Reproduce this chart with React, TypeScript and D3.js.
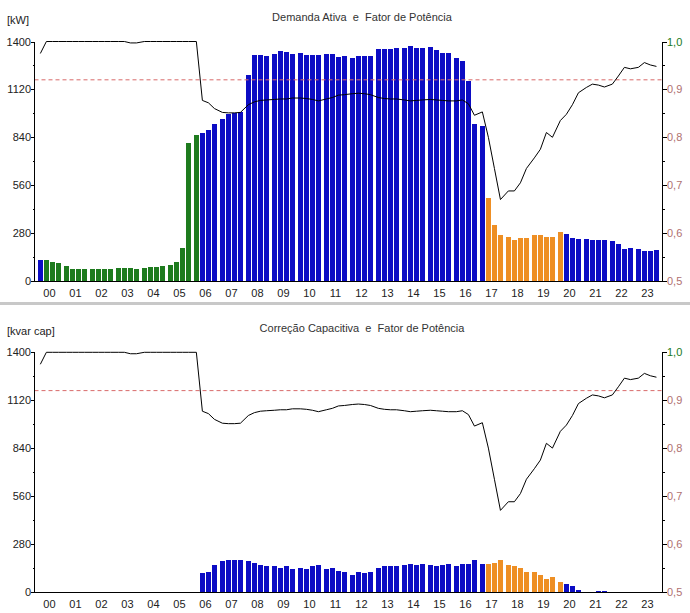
import React from 'react';
import * as d3 from 'd3';

// ---------- data ----------
const hourLabels = ['00','01','02','03','04','05','06','07','08','09','10','11','12','13','14','15','16','17','18','19','20','21','22','23'];
const quarters = [0, 1, 2, 3];

// Demanda ativa [kW], 15-min intervals
const activeDemand = [
  123, 123, 111, 105,
  88, 70, 70, 70,
  70, 70, 70, 70,
  76, 76, 76, 70,
  76, 82, 82, 88,
  94, 111, 195, 809,
  853, 865, 884, 917,
  947, 978, 980, 987,
  1204, 1321, 1321, 1315,
  1325, 1344, 1338, 1327,
  1331, 1321, 1321, 1321,
  1327, 1327, 1307, 1315,
  1302, 1315, 1315, 1315,
  1356, 1356, 1356, 1362,
  1362, 1374, 1362, 1362,
  1368, 1350, 1333, 1333,
  1304, 1286, 1170, 918,
  906, 487, 329, 269,
  257, 240, 249, 249,
  269, 269, 257, 257,
  286, 275, 251, 245,
  245, 240, 240, 240,
  234, 216, 187, 193,
  187, 175, 175, 181,
];

// Correção capacitiva [kvar cap]
const capacitiveCorrection = [
  0, 0, 0, 0,
  0, 0, 0, 0,
  0, 0, 0, 0,
  0, 0, 0, 0,
  0, 0, 0, 0,
  0, 0, 0, 0,
  0, 109, 114, 155,
  178, 188, 188, 188,
  178, 171, 159, 148,
  148, 142, 153, 136,
  142, 136, 148, 159,
  136, 142, 124, 118,
  101, 113, 107, 113,
  142, 148, 148, 153,
  159, 165, 159, 165,
  159, 153, 159, 165,
  153, 165, 165, 183,
  165, 165, 171, 183,
  159, 153, 142, 118,
  113, 101, 72, 84,
  60, 48, 31, 12,
  0, 0, 6, 6,
  0, 0, 0, 0,
  0, 0, 0, 0,
];

// Fator de potência
const powerFactor = [
  0.975, 1.0, 1.0, 1.0,
  1.0, 1.0, 1.0, 1.0,
  1.0, 1.0, 1.0, 1.0,
  1.0, 1.0, 0.997, 0.997,
  1.0, 1.0, 1.0, 1.0,
  1.0, 1.0, 1.0, 1.0,
  1.0, 0.877, 0.872, 0.860,
  0.852, 0.851, 0.851, 0.852,
  0.868, 0.874, 0.877, 0.878,
  0.879, 0.880, 0.880, 0.882,
  0.882, 0.881, 0.879, 0.876,
  0.880, 0.883, 0.888, 0.889,
  0.891, 0.892, 0.891, 0.889,
  0.883, 0.881, 0.880, 0.880,
  0.878, 0.876, 0.877, 0.878,
  0.879, 0.878, 0.877, 0.876,
  0.876, 0.878, 0.870, 0.846,
  0.853, 0.800, 0.735, 0.670,
  0.688, 0.688, 0.705, 0.735,
  0.757, 0.775, 0.810, 0.800,
  0.835, 0.848, 0.868, 0.893,
  0.904, 0.911, 0.909, 0.905,
  0.911, 0.928, 0.946, 0.943,
  0.946, 0.956, 0.951, 0.948,
];

const pfReference = 0.92;

// Tariff periods (by interval index)
const tariffPeriods = [
  { from: 1, to: 24, kind: 'reservado' },
  { from: 69, to: 80, kind: 'ponta' },
];

const leftTicks = [0, 280, 560, 840, 1120, 1400];
const leftMinorTicks = [140, 420, 700, 980, 1260];
const rightTicks = [0.5, 0.6, 0.7, 0.8, 0.9, 1.0];
const rightTickLabels = ['0,5', '0,6', '0,7', '0,8', '0,9', '1,0'];
const rightMinorTicks = [0.55, 0.65, 0.75, 0.85, 0.95];

// ---------- styling ----------
const COLORS: Record<string, string> = {
  foraPonta: '#0c0cc4',
  reservado: '#1e7b1e',
  ponta: '#ee8f24',
};
const FONT = '"Liberation Sans", Arial, sans-serif';

function periodOf(i: number): string {
  for (const p of tariffPeriods) if (i >= p.from && i <= p.to) return p.kind;
  return 'foraPonta';
}

const xHour = d3.scaleBand<number>().domain(d3.range(24)).range([37.7, 37.7 + 624]);
const xQuarter = d3.scaleBand<number>().domain(quarters).range([0, 23.4]).paddingInner(0.12);
const barX = (i: number) => (xHour(Math.floor(i / 4)) as number) + (xQuarter(i % 4) as number);
const barCenter = (i: number) => barX(i) + xQuarter.bandwidth() / 2;

const AX_LEFT = 34.5;
const AX_RIGHT = 662.5;

function Panel({ dy, unit, title, values }: { dy: number; unit: string; title: string; values: number[] }) {
  const bottom = 281 + dy;
  const top = 41.5 + dy;
  const y = d3.scaleLinear().domain([0, 1400]).range([bottom, top]);
  const yPf = d3.scaleLinear().domain([0.5, 1.0]).range([bottom, top]);
  const line = d3.line<number>().x((_, i) => barCenter(i)).y((d) => yPf(d));

  return (
    <g>
      <text x={7} y={24 + dy} fontSize={11} fill="#222" fontFamily={FONT}>{unit}</text>
      <text x={362} y={21 + dy} fontSize={11} fill="#333" fontFamily={FONT} textAnchor="middle" style={{ whiteSpace: 'pre' }}>{title}</text>

      {/* bars */}
      <g shapeRendering="crispEdges">
        {values.map((v, i) =>
          v > 0 ? (
            <rect
              key={i}
              x={barX(i)}
              width={xQuarter.bandwidth()}
              y={y(v)}
              height={y(0) - y(v)}
              fill={COLORS[periodOf(i)]}
            />
          ) : null
        )}
      </g>

      {/* reference PF */}
      <line x1={AX_LEFT} x2={AX_RIGHT} y1={yPf(pfReference)} y2={yPf(pfReference)} stroke="#d86a6a" strokeWidth={1} strokeDasharray="4,3" />

      {/* PF line */}
      <path d={line(powerFactor) || ''} fill="none" stroke="#000" strokeWidth={1} />

      {/* axes */}
      <g shapeRendering="crispEdges" stroke="#000">
        <line x1={AX_LEFT} x2={AX_LEFT} y1={top} y2={bottom} />
        <line x1={AX_RIGHT} x2={AX_RIGHT} y1={top} y2={bottom} />
        <line x1={AX_LEFT} x2={AX_RIGHT} y1={Math.round(bottom) + 0.5} y2={Math.round(bottom) + 0.5} />
        {leftTicks.map((t) => (
          <line key={'l' + t} x1={AX_LEFT - 4} x2={AX_LEFT} y1={Math.round(y(t)) + 0.5} y2={Math.round(y(t)) + 0.5} />
        ))}
        {leftMinorTicks.map((t) => (
          <line key={'lm' + t} x1={AX_LEFT - 2} x2={AX_LEFT} y1={Math.round(y(t)) + 0.5} y2={Math.round(y(t)) + 0.5} />
        ))}
        {rightTicks.map((t) => (
          <line key={'r' + t} x1={AX_RIGHT} x2={AX_RIGHT + 4} y1={Math.round(yPf(t)) + 0.5} y2={Math.round(yPf(t)) + 0.5} />
        ))}
        {rightMinorTicks.map((t) => (
          <line key={'rm' + t} x1={AX_RIGHT} x2={AX_RIGHT + 2} y1={Math.round(yPf(t)) + 0.5} y2={Math.round(yPf(t)) + 0.5} />
        ))}
      </g>

      {/* tick labels */}
      <g fontFamily={FONT} fontSize={11}>
        {leftTicks.map((t) => (
          <text key={'lt' + t} x={31} y={y(t) + 4} textAnchor="end" fill="#222">{String(t)}</text>
        ))}
        {rightTicks.map((t, k) => (
          <text key={'rt' + t} x={667} y={yPf(t) + 4} fill={t >= 1 ? '#1a7a1a' : '#b07070'}>{rightTickLabels[k]}</text>
        ))}
        {hourLabels.map((lab, h) => (
          <text key={'x' + h} x={(xHour(h) as number) + 11.7} y={bottom + 16} textAnchor="middle" fill="#222">{lab}</text>
        ))}
      </g>
    </g>
  );
}

export default function App() {
  return (
    <svg width={690} height={613} style={{ position: 'absolute', left: 0, top: 0, background: '#fff' }}>
      <rect x={0} y={0} width={690} height={613} fill="#fff" />
      <Panel dy={0} unit="[kW]" title="Demanda Ativa  e  Fator de Potência" values={activeDemand} />
      <rect x={0} y={302} width={690} height={3} fill="#c8c8c8" />
      <Panel dy={310.8} unit="[kvar cap]" title="Correção Capacitiva  e  Fator de Potência" values={capacitiveCorrection} />
    </svg>
  );
}
